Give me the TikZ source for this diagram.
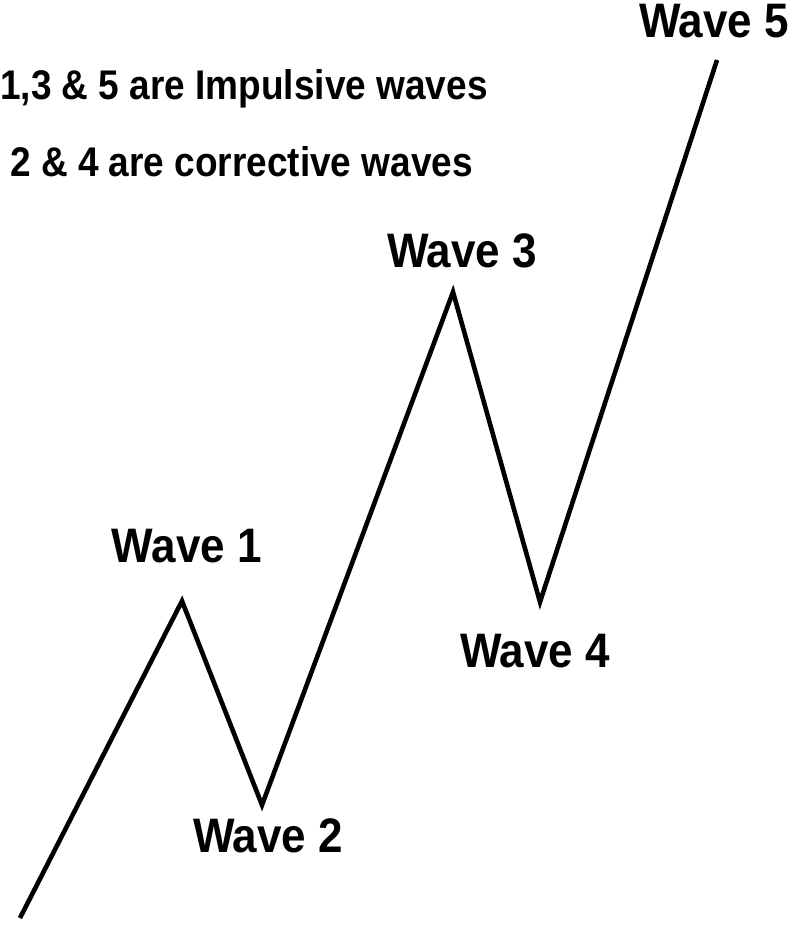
\documentclass[tikz,border=0pt]{standalone}
\usepackage{fontspec}
\setmainfont{Liberation Sans}
\usepackage{tikz}

\tikzset{
  wavelabel/.style={anchor=base, inner sep=0pt, yscale=1.1, font=\bfseries\fontsize{44}{50}\selectfont},
  notetext/.style={anchor=base west, inner sep=0pt, yscale=1.12, font=\bfseries\fontsize{37}{44}\selectfont}
}

\begin{document}
\begin{tikzpicture}[x=1pt, y=-1pt]
    \useasboundingbox[fill=white] (0,0) rectangle (797,928);
    % turning points of the five waves
    \coordinate (w0) at (20,918);
    \coordinate (w1) at (182,601);
    \coordinate (w2) at (262,805);
    \coordinate (w3) at (453,292);
    \coordinate (w4) at (540,602);
    \coordinate (w5) at (717,60);
    \draw[line width=4.6pt, line join=miter] (w0) -- (w1) -- (w2) -- (w3) -- (w4) -- (w5);
    \node[wavelabel] (l1) at (187,562) {Wave 1};
    \node[wavelabel] (l2) at (268,852) {Wave 2};
    \node[wavelabel] (l3) at (462,267) {Wave 3};
    \node[wavelabel] (l4) at (535,667) {Wave 4};
    \node[wavelabel] (l5) at (714,38) {Wave 5};
    % notes top left
    \node[notetext] (impulse) at (0,100) {1,3 \& 5 are Impulsive waves};
    \node[notetext] (correct) at (10,177) {2 \& 4 are corrective waves};
\end{tikzpicture}
\end{document}
